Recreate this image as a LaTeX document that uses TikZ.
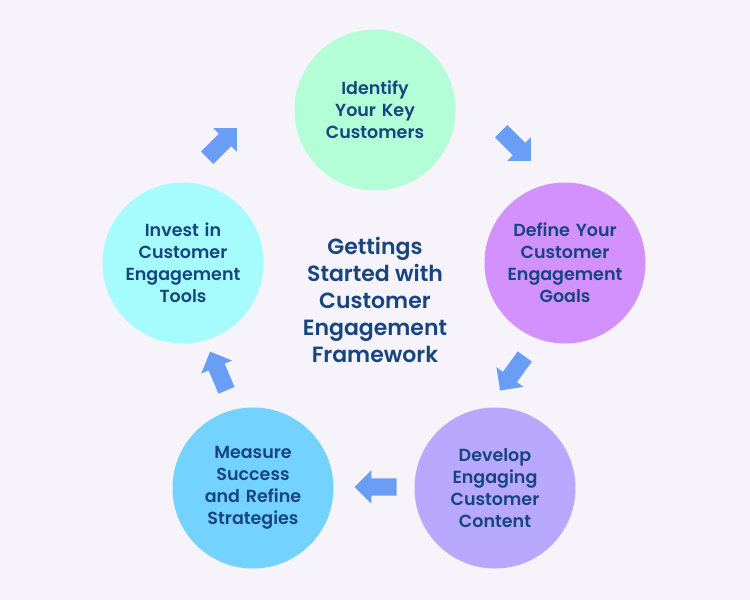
\documentclass[tikz,border=0pt]{standalone}
\usepackage{fontspec}
\setmainfont{Poppins}[BoldFont={Poppins SemiBold}]
\usetikzlibrary{shapes.arrows}

\definecolor{pagebg}{HTML}{F6F3FA}
\definecolor{inktext}{HTML}{16457F}
\definecolor{arrowblue}{HTML}{6A9DF6}
\definecolor{mintcol}{HTML}{B3FDD7}
\definecolor{violetcol}{HTML}{D391FD}
\definecolor{lavendercol}{HTML}{B8A8FE}
\definecolor{skycol}{HTML}{74D3FE}
\definecolor{aquacol}{HTML}{A6FBFD}

\begin{document}
\begin{tikzpicture}[x=1pt, y=-1pt,
	stage/.style={circle, minimum size=161pt, inner sep=0pt, text width=120pt, align=center, text=inktext, font=\fontsize{17.5}{22}\selectfont\bfseries},
	turn/.style={single arrow, fill=arrowblue, inner xsep=0pt, inner ysep=8.5pt, minimum height=42pt, single arrow head extend=8pt}]
	\fill[pagebg] (0,0) rectangle (750,600);
	\useasboundingbox (0,0) rectangle (750,600);
	% the five stages
	\node[stage, fill=mintcol] (identify) at (375,110) {Identify\\Your Key\\Customers};
	\node[stage, fill=violetcol] (define) at (565,263) {Define Your\\Customer\\Engagement\\Goals};
	\node[stage, fill=lavendercol] (develop) at (495,488) {Develop\\Engaging\\Customer\\Content};
	\node[stage, fill=skycol] (measure) at (253,488) {Measure\\Success\\and Refine\\Strategies};
	\node[stage, fill=aquacol] (invest) at (183,263) {Invest in\\Customer\\Engagement\\Tools};
	% the arrows between them
	\node[turn, rotate=45] (toidentify) at (219,146) {};
	\node[turn, rotate=-45] (todefine) at (513,143) {};
	\node[turn, rotate=-126] (todevelop) at (515,370) {};
	\node[turn, rotate=180] (tomeasure) at (380,487) {};
	\node[turn, rotate=113] (toinvest) at (220,375) {};
	\node[align=center, text=inktext, font=\fontsize{22}{27}\selectfont\bfseries] (title) at (375,300) {Gettings\\Started with\\Customer\\Engagement\\Framework};
\end{tikzpicture}
\end{document}
